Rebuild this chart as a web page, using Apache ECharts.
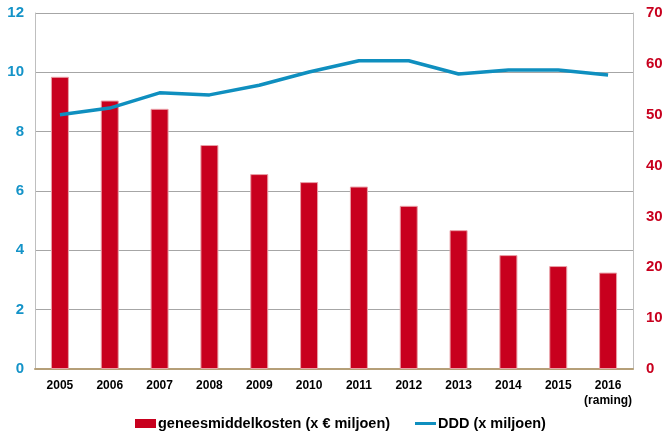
<!DOCTYPE html>
<html><head><meta charset="utf-8">
<script src="https://cdn.jsdelivr.net/npm/echarts@6/dist/echarts.min.js"></script>
<style>html,body{margin:0;padding:0;background:#fff}#c{width:669px;height:438px}</style>
</head><body><div id="c"></div>
<script>
const categories = ['2005','2006','2007','2008','2009','2010','2011','2012','2013','2014','2015','2016\n(raming)'];
const kosten = [9.85, 9.05, 8.77, 7.55, 6.57, 6.3, 6.15, 5.5, 4.68, 3.84, 3.47, 3.25];
const ddd = [50.0, 51.3, 54.3, 53.9, 55.8, 58.4, 60.6, 60.6, 58.0, 58.8, 58.8, 57.8];
const leftTicks = [0, 12, 2];
const rightTicks = [0, 70, 10];
const names = ['geneesmiddelkosten (x € miljoen)', 'DDD (x miljoen)'];

const ff = 'Liberation Sans, Arial, sans-serif';
const legText = {fontSize: 14.5, fontWeight: 'bold', color: '#000', fontFamily: ff, padding: [0,0,0,-3]};
const chart = echarts.init(document.getElementById('c'));
chart.setOption({
  animation: false,
  textStyle: {fontFamily: ff},
  grid: {left: 35, right: 36, top: 13, bottom: 69},
  legend: [{
    left: 130, top: 411, itemWidth: 21, itemHeight: 9,
    itemStyle: {borderWidth: 0},
    textStyle: legText,
    data: [{name: names[0], icon: 'rect'}]
  }, {
    left: 410, top: 411, itemWidth: 21, itemHeight: 9,
    textStyle: legText,
    data: [{name: names[1], icon: 'path://M0,3H21V6H0Z'}]
  }],
  xAxis: {
    type: 'category', data: categories,
    axisLine: {show: true, lineStyle: {color: '#b59f78', width: 2}},
    axisTick: {show: false},
    axisLabel: {fontSize: 12, fontWeight: 'bold', color: '#000', margin: 9, lineHeight: 15, interval: 0}
  },
  yAxis: [{
    type: 'value', min: leftTicks[0], max: leftTicks[1], interval: leftTicks[2], position: 'left',
    axisLine: {show: true, lineStyle: {color: '#bfbfbf'}},
    axisTick: {show: false},
    splitLine: {show: true, lineStyle: {color: '#a6a6a6', width: 1}},
    axisLabel: {fontSize: 15, fontWeight: 'bold', color: '#1493c8', margin: 11}
  }, {
    type: 'value', min: rightTicks[0], max: rightTicks[1], interval: rightTicks[2], position: 'right',
    axisLine: {show: true, lineStyle: {color: '#bfbfbf'}},
    axisTick: {show: false},
    splitLine: {show: false},
    axisLabel: {fontSize: 15, fontWeight: 'bold', color: '#c8001e', margin: 13}
  }],
  series: [{
    name: names[0], type: 'bar', yAxisIndex: 0, data: kosten, barWidth: 18,
    itemStyle: {color: '#c8001e', borderColor: '#eaa0a8', borderWidth: 1}
  }, {
    name: names[1], type: 'line', yAxisIndex: 1, data: ddd,
    symbol: 'none', lineStyle: {color: '#0f8fbf', width: 3.5}, itemStyle: {color: '#0f8fbf'}
  }]
});
</script></body></html>
